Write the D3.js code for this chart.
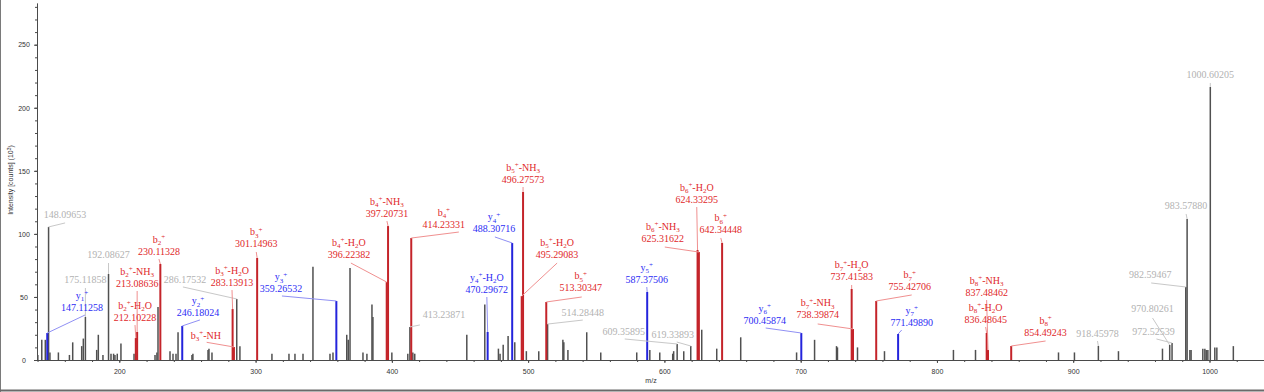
<!DOCTYPE html>
<html>
<head>
<meta charset="utf-8">
<script src="https://cdn.jsdelivr.net/npm/d3@7"></script>
<style>
  body { margin: 0; background: #fff; }
  svg { display: block; }
</style>
</head>
<body>
<svg id="spectrum" width="1264" height="392"></svg>
<script>
// Unlabelled peaks (m/z, intensity in 10^3 counts)
var otherMz = [140.2, 143.1, 145.7, 149.1, 155.3, 163.4, 165.8, 172.4, 173.6, 183.4,
               184.6, 188.0, 193.9, 195.8, 196.8, 198.5, 201.2, 210.8, 226.2, 227.6,
               228.4, 237.2, 239.4, 241.6, 243.1, 253.3, 254.0, 265.1, 265.8, 268.0,
               288.5, 312.0, 324.5, 328.9, 334.8, 342.1, 354.6, 356.8, 366.9, 368.0,
               369.3, 378.8, 381.7, 385.4, 386.1, 400.0, 411.7, 415.4, 416.8, 455.0,
               468.2, 478.2, 479.4, 481.7, 485.3, 490.2, 498.7, 507.8, 525.5, 526.2,
               529.2, 543.0, 553.3, 579.7, 589.3, 596.6, 606.1, 606.8, 614.2, 627.4,
               638.4, 656.0, 697.0, 710.2, 726.3, 727.0, 741.7, 761.5, 812.1, 828.3,
               889.2, 900.9, 933.2, 965.5, 985.6, 986.5, 995.1, 996.6, 997.6, 998.8,
               1003.9, 1005.4, 1017.5];
var otherInt = [4, 16, 16, 6, 6, 4, 14, 11, 17, 8,
                20, 4, 5, 5, 4, 5, 13, 5, 4, 6,
                42, 7, 5, 5, 22, 4, 5, 8, 9, 6,
                11, 5, 5, 5, 5, 74, 5, 6, 20, 16,
                73, 6, 5, 44, 34, 6, 5, 6, 5, 20,
                44, 9, 5, 12, 19, 14, 7, 7, 16, 14,
                8, 22, 6, 6, 8, 6, 5, 7, 7, 24,
                9, 18, 6, 16, 11, 10, 10, 7, 8, 8,
                6, 6, 7, 9, 8, 8, 9, 9, 8, 8,
                10, 10, 11];

// Annotated peaks
var annMz = [147.11258, 148.09653, 175.11858, 192.08627, 212.10228, 213.08636, 230.11328, 246.18024,
             286.17532, 283.13913, 284.12, 301.14963, 359.26532, 396.22382, 397.20731, 413.23871,
             414.23331, 470.29672, 488.30716, 495.29083, 496.27573, 513.30347, 514.28448, 587.37506,
             609.35895, 619.33893, 624.33295, 625.31622, 642.34448, 700.45874, 737.41583, 738.39874,
             755.42706, 771.49890, 836.48645, 837.48462, 854.49243, 918.45978, 970.80261, 972.52539,
             982.59467, 983.57880, 1000.60205];
var annInt = [21.4, 105.5, 34.1, 68.2, 17.4, 22.2, 76.1, 27.0,
              48.4, 40.4, 10.3, 80.9, 46.8, 61.8, 106.2, 26.2,
              96.7, 22.2, 92.8, 50.7, 133.2, 46.0, 28.5, 53.9,
              12.7, 11.1, 87.2, 85.6, 92.8, 21.4, 56.3, 24.6,
              46.8, 20.6, 21.4, 7.9, 11.1, 11.1, 11.9, 13.5,
              57.9, 111.8, 216.5];
// ion names: _x = subscript, ^x = superscript, "" = unassigned
var annIon = ["y_1^+", "", "", "", "b_2^+-H_2O", "b_2^+-NH_3", "b_2^+", "y_2^+",
              "", "b_3^+-H_2O", "b_3^+-NH", "b_3^+", "y_3^+", "b_4^+-H_2O", "b_4^+-NH_3", "",
              "b_4^+", "y_4^+-H_2O", "y_4^+", "b_5^+-H_2O", "b_5^+-NH_3", "b_5^+", "", "y_5^+",
              "", "", "b_6^+-H_2O", "b_6^+-NH_3", "b_6^+", "y_6^+", "b_7^+-H_2O", "b_7^+-NH_3",
              "b_7^+", "y_7^+", "b_8^+-H_2O", "b_8^+-NH_3", "b_8^+", "", "", "",
              "", "", ""];

var xTicks = [200, 300, 400, 500, 600, 700, 800, 900, 1000];
var yTicks = [0, 50, 100, 150, 200, 250];

// Label placement in px relative to the peak top: [dx, dy, leader dx, leader dy, hide value]
var annPos = [
  [34.8, -38, 3, 20], [16.5, -24], [0, -49], [0, -31], [-0.8, -33], [0, -61], [-1.4, -25], [15.7, -25, 2, 19],
  [-51.8, -31, -2, 19], [-0.6, -39], [-28, -12, 0.7, 7.3, true], [-0.9, -26], [-55.4, -24, 1, 19], [-37.8, -40, 2, 21], [-1.1, -25], [34, -24, -24, 22],
  [32.6, -26, 15, 20], [-0.8, -55], [-18.3, -26, 1, 20], [35.4, -54, 0, 21], [0, -25], [34.5, -26, 1, 21], [35.2, -24, 0, 20], [-0.4, -25],
  [-53.4, -24, 1, 19], [-18, -24, 4, 20], [-0.8, -63], [-36.1, -26, 2, 21], [-1.3, -25], [-36.6, -25, 1, 20], [0, -24], [-35.3, -26, 0, 21],
  [33.5, -26, 2, 20], [13.6, -24, -10, 20], [-1, -26], [-1.4, -70], [34.4, -26, 0, 21], [-0.9, -25], [-17.2, -48, 0, 21], [-18.6, -23, 3, 19],
  [-35.6, -24, 1, 20], [-1, -25], [0, -24]
];

var colors = {
  b: {bar: "#c4242a", text: "#e0282a", lead: "#f09090"},
  y: {bar: "#2424dc", text: "#2c2cf4", lead: "#9090f4"},
  o: {bar: "#505050", text: "#b2b2b2", lead: "#c8c8c8"}
};

var x = d3.scaleLinear().domain([139.6, 1040]).range([37, 1264]);
var y = d3.scaleLinear().domain([0, 283]).range([360, 360 - 283 * 1.2612]);

var svg = d3.select("#spectrum");
var fmt = d3.format(".5f");

// frame
svg.append("line").attr("x1", 0.5).attr("x2", 0.5).attr("y1", 0).attr("y2", 392)
   .attr("stroke", "#7a7a7a");
svg.append("line").attr("x1", 0).attr("x2", 1264).attr("y1", 390.5).attr("y2", 390.5)
   .attr("stroke", "#6a6a6a").attr("stroke-width", 2);

// minor ticks
svg.append("g").attr("class", "axis").attr("transform", "translate(0,360)")
   .call(d3.axisBottom(x).tickValues(d3.range(140, 1040, 20)).tickSize(2).tickSizeOuter(0).tickFormat(""));
svg.append("g").attr("class", "axis").attr("transform", "translate(37,0)")
   .call(d3.axisLeft(y).tickValues(d3.range(0, 290, 10)).tickSize(2).tickSizeOuter(0).tickFormat(""));

// major ticks
var xAxis = svg.append("g").attr("class", "axis").attr("transform", "translate(0,360)")
   .call(d3.axisBottom(x).tickValues(xTicks).tickSize(3).tickSizeOuter(0).tickFormat(d3.format("d")));
xAxis.selectAll("text").attr("y", 9).attr("dy", "0.71em");

var yAxis = svg.append("g").attr("class", "axis").attr("transform", "translate(37,0)")
   .call(d3.axisLeft(y).tickValues(yTicks).tickSize(3).tickSizeOuter(0).tickFormat(d3.format("d")));
yAxis.selectAll(".tick line").attr("x1", 1);
yAxis.selectAll("text").attr("x", -13).attr("text-anchor", "middle");

svg.selectAll(".axis path, .axis line").attr("stroke", "#4a4a4a");
svg.selectAll(".axis text").attr("font-family", "'Liberation Sans', Arial, sans-serif")
   .attr("font-size", 7).attr("fill", "#333");

// axis titles
var yTitle = svg.append("text").attr("transform", "translate(13,180) rotate(-90)")
   .attr("text-anchor", "middle").attr("font-family", "'Liberation Sans', Arial, sans-serif")
   .attr("font-size", 7).attr("fill", "#333");
yTitle.append("tspan").text("Intensity [counts] (10");
yTitle.append("tspan").attr("dy", -2.5).attr("font-size", 5).text("3");
yTitle.append("tspan").attr("dy", 2.5).text(")");

svg.append("text").attr("x", 651).attr("y", 383).attr("text-anchor", "middle")
   .attr("font-family", "'Liberation Sans', Arial, sans-serif").attr("font-size", 7)
   .attr("fill", "#333").text("m/z");

// peaks
var others = otherMz.map(function(m, i) { return {mz: m, v: otherInt[i]}; });
var ann = annMz.map(function(m, i) {
  var p = annPos[i];
  return {mz: m, v: annInt[i], ion: annIon[i], kind: annIon[i] ? annIon[i][0] : "o",
          dx: p[0], dy: p[1], lx: p[2] === undefined ? 0 : p[2], ly: p[3] === undefined ? 20 : p[3],
          hide: !!p[4]};
});

svg.append("g").selectAll("line")
   .data(others.concat(ann.filter(function(d) { return d.kind === "o"; })))
   .enter().append("line")
   .attr("x1", function(d) { return x(d.mz); })
   .attr("x2", function(d) { return x(d.mz); })
   .attr("y1", y(0))
   .attr("y2", function(d) { return y(d.v); })
   .attr("stroke", colors.o.bar)
   .attr("stroke-width", 1.5);

svg.append("g").selectAll("line")
   .data(ann.filter(function(d) { return d.kind !== "o"; }))
   .enter().append("line")
   .attr("x1", function(d) { return x(d.mz); })
   .attr("x2", function(d) { return x(d.mz); })
   .attr("y1", y(0))
   .attr("y2", function(d) { return y(d.v); })
   .attr("stroke", function(d) { return colors[d.kind].bar; })
   .attr("stroke-width", 2);

// leader lines
svg.append("g").selectAll("line")
   .data(ann)
   .enter().append("line")
   .attr("x1", function(d) { return x(d.mz) + d.dx + d.lx; })
   .attr("y1", function(d) { return y(d.v) + d.dy + d.ly; })
   .attr("x2", function(d) { return x(d.mz); })
   .attr("y2", function(d) { return y(d.v); })
   .attr("stroke", function(d) { return colors[d.kind].lead; })
   .attr("stroke-width", 1);

// labels
function ionText(sel, str) {
  var shift = 0;
  for (var i = 0; i < str.length; i++) {
    var c = str[i], target = 0, size = 10;
    if (c === "_" || c === "^") {
      target = c === "_" ? 2.5 : -3.5;
      size = 7;
      c = str[++i];
    }
    sel.append("tspan").attr("dy", target - shift).attr("font-size", size).text(c);
    shift = target;
  }
}

var labels = svg.append("g")
   .attr("font-family", "'Liberation Serif', 'Times New Roman', serif")
   .attr("font-size", 10)
   .attr("text-anchor", "middle")
  .selectAll("g")
   .data(ann)
   .enter().append("g")
   .attr("fill", function(d) { return colors[d.kind].text; })
   .attr("transform", function(d) {
     return "translate(" + (x(d.mz) + d.dx) + "," + (y(d.v) + d.dy) + ")";
   });

labels.filter(function(d) { return d.ion; })
   .append("text").attr("y", 3.5)
   .each(function(d) { ionText(d3.select(this), d.ion); });

labels.filter(function(d) { return !d.hide; })
   .append("text").attr("y", 15.5)
   .text(function(d) { return fmt(d.mz); });
</script>
</body>
</html>
